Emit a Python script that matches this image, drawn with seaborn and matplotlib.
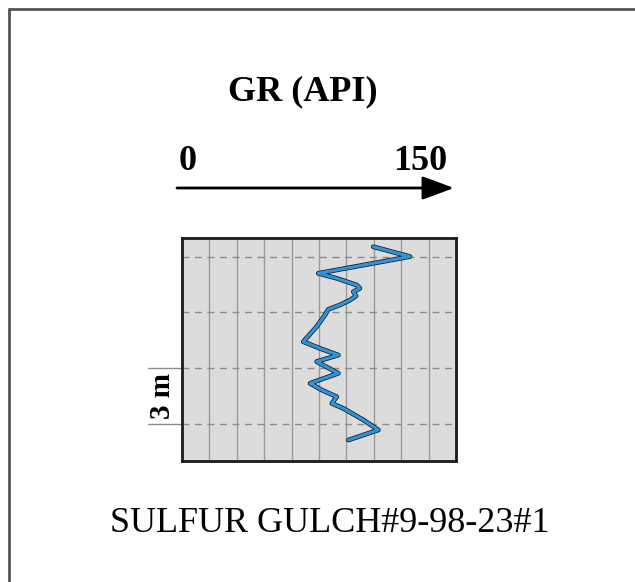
import numpy as np
import pandas as pd
import matplotlib
matplotlib.use("Agg")
import matplotlib.pyplot as plt
import matplotlib.transforms as mtransforms
from matplotlib.lines import Line2D
import seaborn as sns

# GR log readings (API) vs depth (m from top of the track)
gr_api = [104.7, 124.8, 74.6, 84.7, 95.6, 97.4, 93.8, 95.3, 92.0, 86.5, 80.1,
          78.3, 73.7, 66.4, 75.5, 85.6, 73.7, 85.6, 70.1, 76.5, 84.7, 82.0,
          88.3, 99.3, 107.5, 91.1]
depth_m = [0.47, 1.0, 1.9, 2.17, 2.53, 2.71, 2.89, 3.12, 3.34, 3.6, 3.84,
           4.14, 4.77, 5.58, 5.94, 6.3, 6.65, 7.28, 7.82, 8.18, 8.54, 8.9,
           9.17, 9.79, 10.33, 10.87]
gr_min, gr_max = 0, 150
depth_top, depth_bottom = 0, 12
grid_x = list(range(15, 150, 15))
grid_depth = [1, 4, 7, 10]
scale_bar = [7, 10]

log = pd.DataFrame({"GR": gr_api, "depth": depth_m})

sns.set_style("white")
plt.rcParams["font.family"] = ["Liberation Serif", "DejaVu Serif"]
plt.rcParams["text.color"] = "black"

W, H = 635, 582
fig = plt.figure(figsize=(W / 100, H / 100), dpi=100)
fig.patch.set_facecolor("white")

# track box
ax = fig.add_axes([182 / W, (H - 461) / H, 274 / W, 223 / H])
ax.set_facecolor("#dcdcdc")
for x in grid_x:
    ax.axvline(x, color="#9a9a9a", lw=1.0, zorder=1)
for d in grid_depth:
    ax.axhline(d, color="#8c8c8c", lw=1.0, ls=(0, (5, 4)), zorder=1)

sns.lineplot(data=log, x="GR", y="depth", sort=False, estimator=None,
             color="#1a1a1a", lw=3.4, ax=ax, zorder=3)
sns.lineplot(data=log, x="GR", y="depth", sort=False, estimator=None,
             color="#2e93d8", lw=2.3, ax=ax, zorder=4)

ax.set_xlim(gr_min, gr_max)
ax.set_ylim(depth_bottom, depth_top)
ax.set_xticks([])
ax.set_yticks([])
ax.set_xlabel("")
ax.set_ylabel("")
for s in ax.spines.values():
    s.set_visible(True)
    s.set_color("#1a1a1a")
    s.set_linewidth(2.0)

# 3 m scale bar to the left of the track
trans = mtransforms.blended_transform_factory(ax.transAxes, ax.transData)
for d in scale_bar:
    ax.plot([-34 / 274, 0], [d, d], color="#8c8c8c", lw=1.0,
            transform=trans, clip_on=False)
ax.text(-20 / 274, np.mean(scale_bar), "3 m", transform=trans, rotation=90,
        ha="center", va="center", fontsize=21, fontweight="bold")

# header: curve name, scale and arrow
fig.text(303 / W, 1 - 92 / H, "GR (API)", ha="center", va="center",
         fontsize=26, fontweight="bold")
fig.text(188 / W, 1 - 162 / H, str(gr_min), ha="center", va="center",
         fontsize=26, fontweight="bold")
fig.text(420 / W, 1 - 162 / H, str(gr_max), ha="center", va="center",
         fontsize=26, fontweight="bold")
fig.add_artist(matplotlib.patches.FancyArrowPatch(
    (177 / W, 1 - 188 / H), (454 / W, 1 - 188 / H),
    transform=fig.transFigure,
    arrowstyle="-|>,head_length=0.65,head_width=0.24",
    mutation_scale=30, shrinkA=0, shrinkB=0, color="black", lw=2.0))

# well name
fig.text(330 / W, 1 - 523 / H, "SULFUR GULCH#9-98-23#1", ha="center",
         va="center", fontsize=26)

# outer frame (top and left edges only)
fig.add_artist(Line2D([9 / W, 1], [1 - 9 / H, 1 - 9 / H],
                      transform=fig.transFigure, color="#555555", lw=2.0))
fig.add_artist(Line2D([9 / W, 9 / W], [0, 1 - 9 / H],
                      transform=fig.transFigure, color="#555555", lw=2.0))

fig.savefig("out.png", dpi=100)
